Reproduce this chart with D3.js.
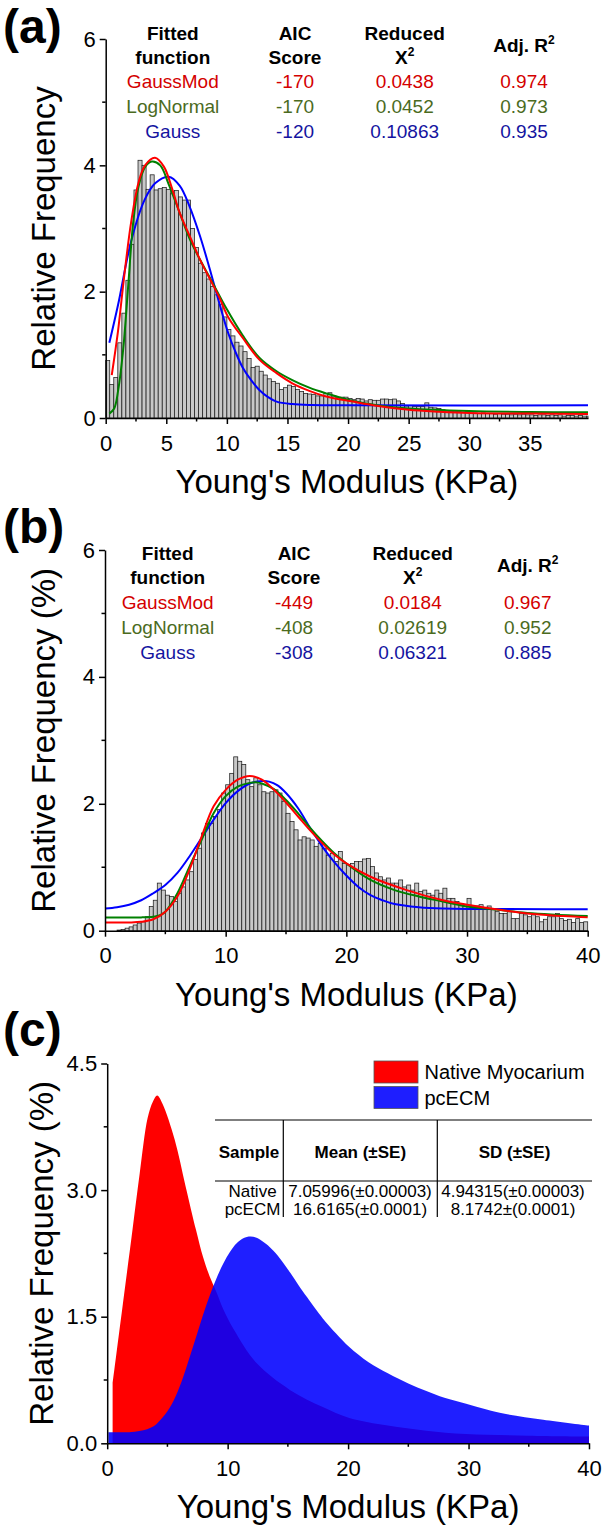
<!DOCTYPE html>
<html><head><meta charset="utf-8">
<script src="https://cdn.jsdelivr.net/npm/d3@7"></script>
<style>
body{margin:0;background:#fff}
svg{display:block}
text{font-family:"Liberation Sans",Arial,Helvetica,sans-serif}
</style>
</head><body>
<svg id="chart" width="609" height="1532"></svg>
<script>
// ---------------- DATA ----------------
const binWidth = 1/3;
// Panel (a) histogram: relative frequency per 1/3 KPa bin, starting at 0
const histA = [0.91,0.53,0.64,1.19,1.66,2.18,2.75,3.61,4.08,4.0,
  3.62,3.85,3.61,3.63,3.65,3.62,3.55,3.6,3.5,3.45,
  3.45,3.0,2.7,2.45,2.3,2.2,2.08,1.95,1.8,1.6,
  1.4,1.3,1.2,1.14,1.05,0.94,0.8,0.82,0.74,0.68,
  0.62,0.58,0.55,0.45,0.48,0.52,0.5,0.45,0.42,0.39,
  0.38,0.37,0.35,0.35,0.39,0.4,0.35,0.32,0.33,0.33,
  0.31,0.29,0.31,0.3,0.27,0.29,0.28,0.28,0.3,0.3,
  0.29,0.3,0.27,0.23,0.19,0.2,0.18,0.18,0.18,0.24,
  0.17,0.16,0.15,0.13,0.11,0.1,0.1,0.1,0.09,0.1,
  0.08,0.08,0.07,0.08,0.07,0.07,0.06,0.07,0.06,0.06,
  0.05,0.06,0.05,0.06,0.05,0.05,0.04,0.05,0.05,0.04,
  0.05,0.04,0.05,0.03,0.04,0.04,0.03,0.04,0.03,0.03];
// Panel (b) histogram
const histB = [0,0,0,0.01,0.02,0.04,0.06,0.09,0.12,0.14,
  0.22,0.38,0.48,0.75,0.64,0.56,0.54,0.46,0.59,0.69,
  0.80,0.93,1.12,1.30,1.54,1.69,1.69,1.80,1.91,2.17,
  2.30,2.48,2.74,2.67,2.62,2.38,2.27,2.41,2.30,2.19,
  2.17,2.19,2.22,2.17,2.04,1.85,1.72,1.59,1.43,1.48,
  1.46,1.43,1.33,1.38,1.30,1.19,1.22,1.09,1.25,1.06,
  1.04,1.06,1.09,1.09,1.13,1.14,1.01,0.91,0.85,0.80,
  0.83,0.75,0.75,0.80,0.69,0.72,0.64,0.75,0.62,0.64,
  0.59,0.56,0.64,0.59,0.67,0.51,0.51,0.46,0.41,0.41,
  0.51,0.38,0.39,0.41,0.35,0.39,0.33,0.30,0.27,0.27,
  0.30,0.19,0.19,0.27,0.25,0.22,0.25,0.22,0.14,0.18,
  0.22,0.22,0.27,0.19,0.16,0.18,0.13,0.19,0.13,0.14];

// Fitted curves: [KPa, value]
const fitA_Gauss = [[0.3,1.19],[1.03,1.8],[2.1,2.8],[3.2,3.45],[4.1,3.72],[5.2,3.82],[6.1,3.68],[6.9,3.36],[7.8,2.87],[8.6,2.35],[9.4,1.8],[10.1,1.35],[10.7,1.05],[11.3,0.8],[12.0,0.6],[12.7,0.44],[13.4,0.33],[14.1,0.26],[15.4,0.22],[17,0.205],[20,0.2],[39.8,0.2]];
const fitA_LogNormal = [[0.3,0.07],[0.7,0.15],[1.03,0.44],[1.45,1.1],[1.86,2.1],[2.27,3.1],[2.69,3.65],[3.24,3.97],[3.8,4.06],[4.5,4.0],[5.2,3.7],[6.1,3.25],[6.9,2.85],[7.8,2.5],[8.6,2.22],[10,1.72],[11.3,1.31],[12.7,0.95],[14.1,0.74],[15.4,0.6],[16.8,0.48],[18.2,0.39],[20.4,0.27],[22.5,0.2],[25,0.15],[30,0.11],[35,0.095],[39.8,0.09]];
const fitA_GaussMod = [[0.5,0.68],[1.0,1.35],[1.5,2.2],[2.1,3.1],[2.7,3.72],[3.25,4.0],[4.07,4.12],[4.8,3.98],[5.5,3.62],[6.1,3.25],[7.0,2.85],[7.8,2.5],[8.6,2.2],[9.4,1.9],[10.1,1.6],[11.3,1.27],[12.7,0.92],[14.1,0.71],[15.4,0.55],[16.8,0.43],[18.2,0.34],[20.4,0.26],[22.5,0.19],[25,0.13],[27.5,0.1],[30,0.08],[35,0.07],[39.8,0.065]];

const fitB_Gauss = [[0,0.35],[1,0.37],[2,0.41],[3,0.48],[4,0.59],[5,0.72],[6,0.91],[7,1.17],[8,1.46],[9,1.75],[10,2.01],[11,2.2],[12,2.32],[13,2.36],[13.6,2.35],[14.3,2.29],[15,2.17],[16,1.93],[17,1.62],[18,1.33],[19,1.08],[20,0.87],[21,0.69],[22,0.56],[23,0.48],[24,0.42],[26,0.37],[28,0.35],[40,0.34]];
const fitB_LogNormal = [[0,0.21],[3,0.21],[4,0.22],[4.5,0.24],[5,0.3],[6,0.59],[7,1.01],[8,1.43],[9,1.85],[10,2.12],[11,2.27],[12,2.33],[12.5,2.34],[13,2.32],[14,2.23],[15,2.06],[16,1.85],[17,1.62],[18,1.41],[19,1.22],[20,1.06],[22,0.8],[24,0.64],[26,0.54],[28,0.46],[30,0.38],[32,0.34],[35,0.28],[40,0.23]];
const fitB_GaussMod = [[0,0.13],[2,0.13],[3,0.14],[4,0.18],[5,0.3],[6,0.54],[7,0.96],[8,1.48],[9,1.96],[10,2.22],[11,2.38],[12,2.44],[13,2.38],[14,2.22],[15,2.02],[16,1.8],[17,1.58],[18,1.38],[19,1.2],[20,1.06],[22,0.85],[25,0.64],[28,0.48],[30,0.41],[32,0.35],[35,0.27],[38,0.23],[40,0.21]];

// Panel (c) distributions
const distNative = [[0.45,0.71],[1.3,1.65],[2.1,2.53],[2.7,3.2],[3.35,3.85],[3.8,4.05],[4.15,4.12],[4.6,4.02],[5.6,3.6],[6.5,3.05],[7.37,2.53],[7.97,2.2],[8.5,1.98],[9.1,1.78],[9.6,1.6],[10.5,1.35],[12.4,0.95],[15.2,0.63],[17.9,0.43],[20.1,0.3],[23.3,0.21],[26.5,0.15],[29.8,0.11],[35,0.09],[40,0.08]];
const distPcECM = [[0.1,0.13],[2,0.135],[3,0.155],[3.6,0.185],[4.1,0.23],[4.8,0.34],[5.5,0.5],[6.2,0.74],[6.87,1.03],[7.6,1.36],[8.26,1.65],[9.0,1.93],[9.64,2.13],[10.2,2.27],[10.75,2.37],[11.3,2.43],[11.9,2.45],[12.5,2.43],[13.2,2.36],[13.8,2.28],[14.5,2.16],[15.2,2.02],[15.9,1.87],[16.6,1.73],[17.9,1.48],[19.0,1.3],[20.1,1.14],[21.7,0.96],[23.3,0.83],[25,0.71],[26.5,0.62],[28,0.54],[29.8,0.47],[31.5,0.4],[33,0.35],[36.2,0.28],[40,0.21]];

// Fit statistics tables
const fitNames = ["GaussMod","LogNormal","Gauss"];
const aicA = ["-170","-170","-120"];
const chiA = ["0.0438","0.0452","0.10863"];
const r2A  = ["0.974","0.973","0.935"];
const aicB = ["-449","-408","-308"];
const chiB = ["0.0184","0.02619","0.06321"];
const r2B  = ["0.967","0.952","0.885"];

// Panel (c) table and legend
const tableHead = ["Sample","Mean (±SE)","SD (±SE)"];
const samples = ["Native","pcECM"];
const means = ["7.05996(±0.00003)","16.6165(±0.0001)"];
const sds = ["4.94315(±0.00003)","8.1742±(0.0001)"];
const legendLabels = ["Native Myocarium","pcECM"];

// Axis ticks
const xTicksA = [0,5,10,15,20,25,30,35], xMinorA = [2.5,7.5,12.5,17.5,22.5,27.5,32.5,37.5];
const xTicksBC = [0,10,20,30,40], xMinorBC = [5,15,25,35];
const yTicksAB = [0,2,4,6], yMinorAB = [1,3,5];
const yTicksC = [0,1.5,3,4.5], yMinorC = [0.75,2.25,3.75];

// ---------------- DRAW ----------------
const svg = d3.select("#chart");
const fitColors = {GaussMod:"#ff0000", LogNormal:"#008000", Gauss:"#0000ff"};
const textColors = ["#d40000","#4b6b1e","#1414a0"];
const smooth = d3.curveCatmullRom.alpha(0.5);

function drawAxes(x, y, o) {
  const y0 = y.range()[0], x0 = x.range()[0];
  const gx = svg.append("g").attr("transform", `translate(0,${y0})`)
    .call(d3.axisBottom(x).tickValues(o.xt).tickSize(6).tickSizeOuter(0).tickPadding(11).tickFormat(d3.format("d")));
  gx.selectAll(".mn").data(o.xm).enter().append("line")
    .attr("x1", d => x(d)).attr("x2", d => x(d)).attr("y1", 0).attr("y2", 3.5);
  const gy = svg.append("g").attr("transform", `translate(${x0},0)`)
    .call(d3.axisLeft(y).tickValues(o.yt).tickSize(6).tickSizeOuter(0).tickPadding(4).tickFormat(o.yf));
  gy.selectAll(".mn").data(o.ym).enter().append("line")
    .attr("y1", d => y(d)).attr("y2", d => y(d)).attr("x1", 0).attr("x2", -3.5);
  [gx, gy].forEach(g => {
    g.selectAll("path,line").attr("stroke", "#000").attr("stroke-width", 1.5);
    g.selectAll("text").attr("font-size", 22).attr("fill", "#000")
      .attr("font-family", '"Liberation Sans",Arial,sans-serif');
  });
  svg.append("text").attr("x", (x.range()[0] + x.range()[1]) / 2).attr("y", y0 + 64 + 11)
    .attr("text-anchor", "middle").attr("font-size", 33).text("Young's Modulus (KPa)");
  const yc = (y.range()[0] + y.range()[1]) / 2;
  svg.append("text").attr("transform", `translate(${o.ytx},${yc}) rotate(-90)`)
    .attr("text-anchor", "middle").attr("font-size", 33).text(o.ytitle);
}

function panelLabel(t, yb) {
  svg.append("text").attr("x", 3).attr("y", yb).attr("font-size", 48).attr("font-weight", "bold").text(t);
}

function histogram(x, y, data) {
  const xmax = x.domain()[1];
  const bins = data.map((v, i) => ({x0: i * binWidth, x1: Math.min((i + 1) * binWidth, xmax), v}))
    .filter(b => b.x0 < xmax);
  svg.append("g").selectAll("rect").data(bins).enter().append("rect")
    .attr("x", b => x(b.x0)).attr("width", b => x(b.x1) - x(b.x0))
    .attr("y", b => y(b.v)).attr("height", b => y(0) - y(b.v))
    .attr("fill", "#c8c8c8").attr("stroke", "#1e1e1e").attr("stroke-width", 0.75);
}

function curves(x, y, list) {
  const line = d3.line().x(d => x(d[0])).y(d => y(d[1])).curve(smooth);
  list.forEach(([name, pts]) => {
    svg.append("path").datum(pts).attr("d", line).attr("fill", "none")
      .attr("stroke", fitColors[name]).attr("stroke-width", 2);
  });
}

function fitTable(cx, rowsY, hdrY, aic, chi, r2) {
  const g = svg.append("g").attr("font-size", 19).attr("text-anchor", "middle");
  const hb = g.append("g").attr("font-weight", "bold").attr("fill", "#000");
  hb.append("text").attr("x", cx[0]).attr("y", hdrY[0]).text("Fitted");
  hb.append("text").attr("x", cx[0]).attr("y", hdrY[1]).text("function");
  hb.append("text").attr("x", cx[1]).attr("y", hdrY[0]).text("AIC");
  hb.append("text").attr("x", cx[1]).attr("y", hdrY[1]).text("Score");
  hb.append("text").attr("x", cx[2]).attr("y", hdrY[0]).text("Reduced");
  const t1 = hb.append("text").attr("x", cx[2]).attr("y", hdrY[1]);
  t1.append("tspan").text("X");
  t1.append("tspan").attr("font-size", 12).attr("dy", -8).text("2");
  const t2 = hb.append("text").attr("x", cx[3]).attr("y", (hdrY[0] + hdrY[1]) / 2);
  t2.append("tspan").text("Adj. R");
  t2.append("tspan").attr("font-size", 12).attr("dy", -8).text("2");
  fitNames.forEach((n, i) => {
    [n, aic[i], chi[i], r2[i]].forEach((v, j) => {
      g.append("text").attr("x", cx[j]).attr("y", rowsY[i]).attr("fill", textColors[i]).text(v);
    });
  });
}

// ---- Panel (a)
const xA = d3.scaleLinear().domain([0, 39.8]).range([105.7, 588]);
const yA = d3.scaleLinear().domain([0, 6]).range([418, 39]);
histogram(xA, yA, histA);
curves(xA, yA, [["Gauss", fitA_Gauss], ["LogNormal", fitA_LogNormal], ["GaussMod", fitA_GaussMod]]);
drawAxes(xA, yA, {xt: xTicksA, xm: xMinorA, yt: yTicksAB, ym: yMinorAB, yf: d3.format("d"), ytitle: "Relative Frequency", ytx: 55});
fitTable([172.8, 295, 404.7, 524], [88, 113, 138], [40, 64], aicA, chiA, r2A);
panelLabel("(a)", 43);

// ---- Panel (b)
const xB = d3.scaleLinear().domain([0, 40]).range([105, 587.7]);
const yB = d3.scaleLinear().domain([0, 6]).range([930.7, 550]);
histogram(xB, yB, histB);
curves(xB, yB, [["Gauss", fitB_Gauss], ["LogNormal", fitB_LogNormal], ["GaussMod", fitB_GaussMod]]);
drawAxes(xB, yB, {xt: xTicksBC, xm: xMinorBC, yt: yTicksAB, ym: yMinorAB, yf: d3.format("d"), ytitle: "Relative Frequency (%)", ytx: 55});
fitTable([167.7, 294, 412.7, 527.7], [608.5, 633.5, 658.5], [560, 584], aicB, chiB, r2B);
panelLabel("(b)", 543);

// ---- Panel (c)
const xC = d3.scaleLinear().domain([0, 40]).range([107.2, 589]);
const yC = d3.scaleLinear().domain([0, 4.5]).range([1443.3, 1063.5]);
const area = d3.area().x(d => xC(d[0])).y0(yC(0)).y1(d => yC(d[1])).curve(smooth);
svg.append("path").datum(distNative).attr("d", area).attr("fill", "#ff0000");
svg.append("path").datum(distPcECM).attr("d", area).attr("fill", "#0000ff").attr("fill-opacity", 0.88);
drawAxes(xC, yC, {xt: xTicksBC, xm: xMinorBC, yt: yTicksC, ym: yMinorC, yf: d3.format(".1f"), ytitle: "Relative Frequency (%)", ytx: 53});
panelLabel("(c)", 1046);

// legend
const legColors = ["#ff0000", "#1e1eff"];
legendLabels.forEach((l, i) => {
  const yy = 1061 + i * 25.5;
  svg.append("rect").attr("x", 374).attr("y", yy).attr("width", 44).attr("height", 22)
    .attr("fill", legColors[i]).attr("stroke", "#555").attr("stroke-width", 0.8);
  svg.append("text").attr("x", 424.5).attr("y", yy + 18).attr("font-size", 20).text(l);
});

// table
const tbl = svg.append("g").attr("stroke", "#000").attr("stroke-width", 1.2);
tbl.append("line").attr("x1", 215).attr("x2", 592).attr("y1", 1120).attr("y2", 1120);
tbl.append("line").attr("x1", 215).attr("x2", 592).attr("y1", 1181).attr("y2", 1181);
[283.3, 437.3].forEach(vx => tbl.append("line").attr("x1", vx).attr("x2", vx).attr("y1", 1120).attr("y2", 1217));
const colX = [249, 360.3, 514.5];
tableHead.forEach((h, j) => svg.append("text").attr("x", colX[j]).attr("y", 1157.5)
  .attr("text-anchor", "middle").attr("font-weight", "bold").attr("font-size", 17).text(h));
samples.forEach((s, i) => {
  const yy = 1197 + i * 17.5;
  [s, means[i], sds[i]].forEach((v, j) => svg.append("text").attr("x", [252.5, 360, 513][j]).attr("y", yy)
    .attr("text-anchor", "middle").attr("font-size", 17).text(v));
});
</script>
</body></html>
